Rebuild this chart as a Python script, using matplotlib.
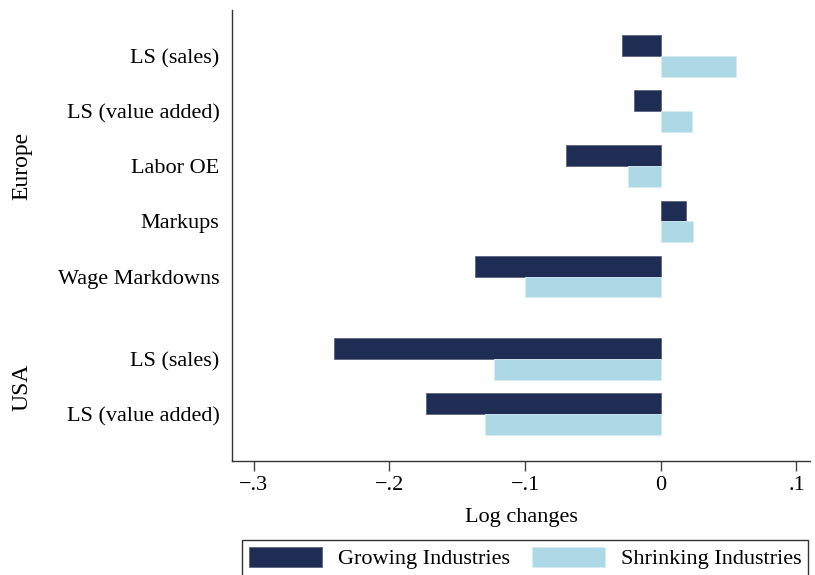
import matplotlib.pyplot as plt
import numpy as np

# ==========================================
# DATA
# ==========================================

europe_labels = ["LS (sales)", "LS (value added)", "Labor OE", "Markups", "Wage Markdowns"]
usa_labels = ["LS (sales)", "LS (value added)"]

europe_growing = [-0.0285, -0.0194, -0.0702, 0.0187, -0.137]
europe_shrinking = [0.0552, 0.0232, -0.0242, 0.0237, -0.0998]

usa_growing = [-0.2407, -0.1733]
usa_shrinking = [-0.1228, -0.1297]

tick_values = [-0.3, -0.2, -0.1, 0, 0.1]
tick_labels = ["\u2212.3", "\u2212.2", "\u2212.1", "0", ".1"]

dark = "#1f2d54"
light = "#add8e6"

plt.rcParams["font.family"] = ["Liberation Serif", "DejaVu Serif"]

# ==========================================
# PLOT
# ==========================================

labels = europe_labels + usa_labels
growing = europe_growing + usa_growing
shrinking = europe_shrinking + usa_shrinking
pos = np.array(list(range(len(europe_labels))) + [5.5, 6.5])

h = 0.38

fig = plt.figure(figsize=(8.15, 5.75), dpi=100)
ax = fig.add_axes([232 / 815, 1 - 461 / 575, 578 / 815, 451 / 575])

ax.barh(pos - h / 2, growing, height=h, color=dark,
        edgecolor="#5a6585", linewidth=0.6, label="Growing Industries")
ax.barh(pos + h / 2, shrinking, height=h, color=light,
        edgecolor="#d6ecf3", linewidth=0.6, label="Shrinking Industries")

ax.set_ylim(7.35, -0.84)
ax.set_xlim(-0.316, 0.11)

ax.set_yticks(pos)
ax.set_yticklabels(labels, fontsize=16)
ax.tick_params(axis="y", length=0, pad=9)

ax.set_xticks(tick_values)
ax.set_xticklabels(tick_labels, fontsize=16)
ax.tick_params(axis="x", length=7, width=1, color="#444444", pad=4)

ax.set_xlabel("Log changes", fontsize=16, labelpad=9)

for s in ["top", "right"]:
    ax.spines[s].set_visible(False)
for s in ["left", "bottom"]:
    ax.spines[s].set_color("#333333")
    ax.spines[s].set_linewidth(1)

# group labels
fig.text(22 / 815, 1 - 166 / 575, "Europe", rotation=90,
         ha="center", va="center", fontsize=17)
fig.text(22 / 815, 1 - 387 / 575, "USA", rotation=90,
         ha="center", va="center", fontsize=17)

leg = fig.legend(
    loc="upper center",
    bbox_to_anchor=(525 / 815, 1 - 540 / 575),
    borderaxespad=0,
    ncol=2,
    fontsize=16,
    frameon=True,
    fancybox=False,
    handlelength=3.3,
    handleheight=1.0,
    handletextpad=0.7,
    columnspacing=1.0,
    borderpad=0.3
)
leg.get_frame().set_edgecolor("black")
leg.get_frame().set_linewidth(1)

plt.savefig("out.png", dpi=100)
plt.close()
